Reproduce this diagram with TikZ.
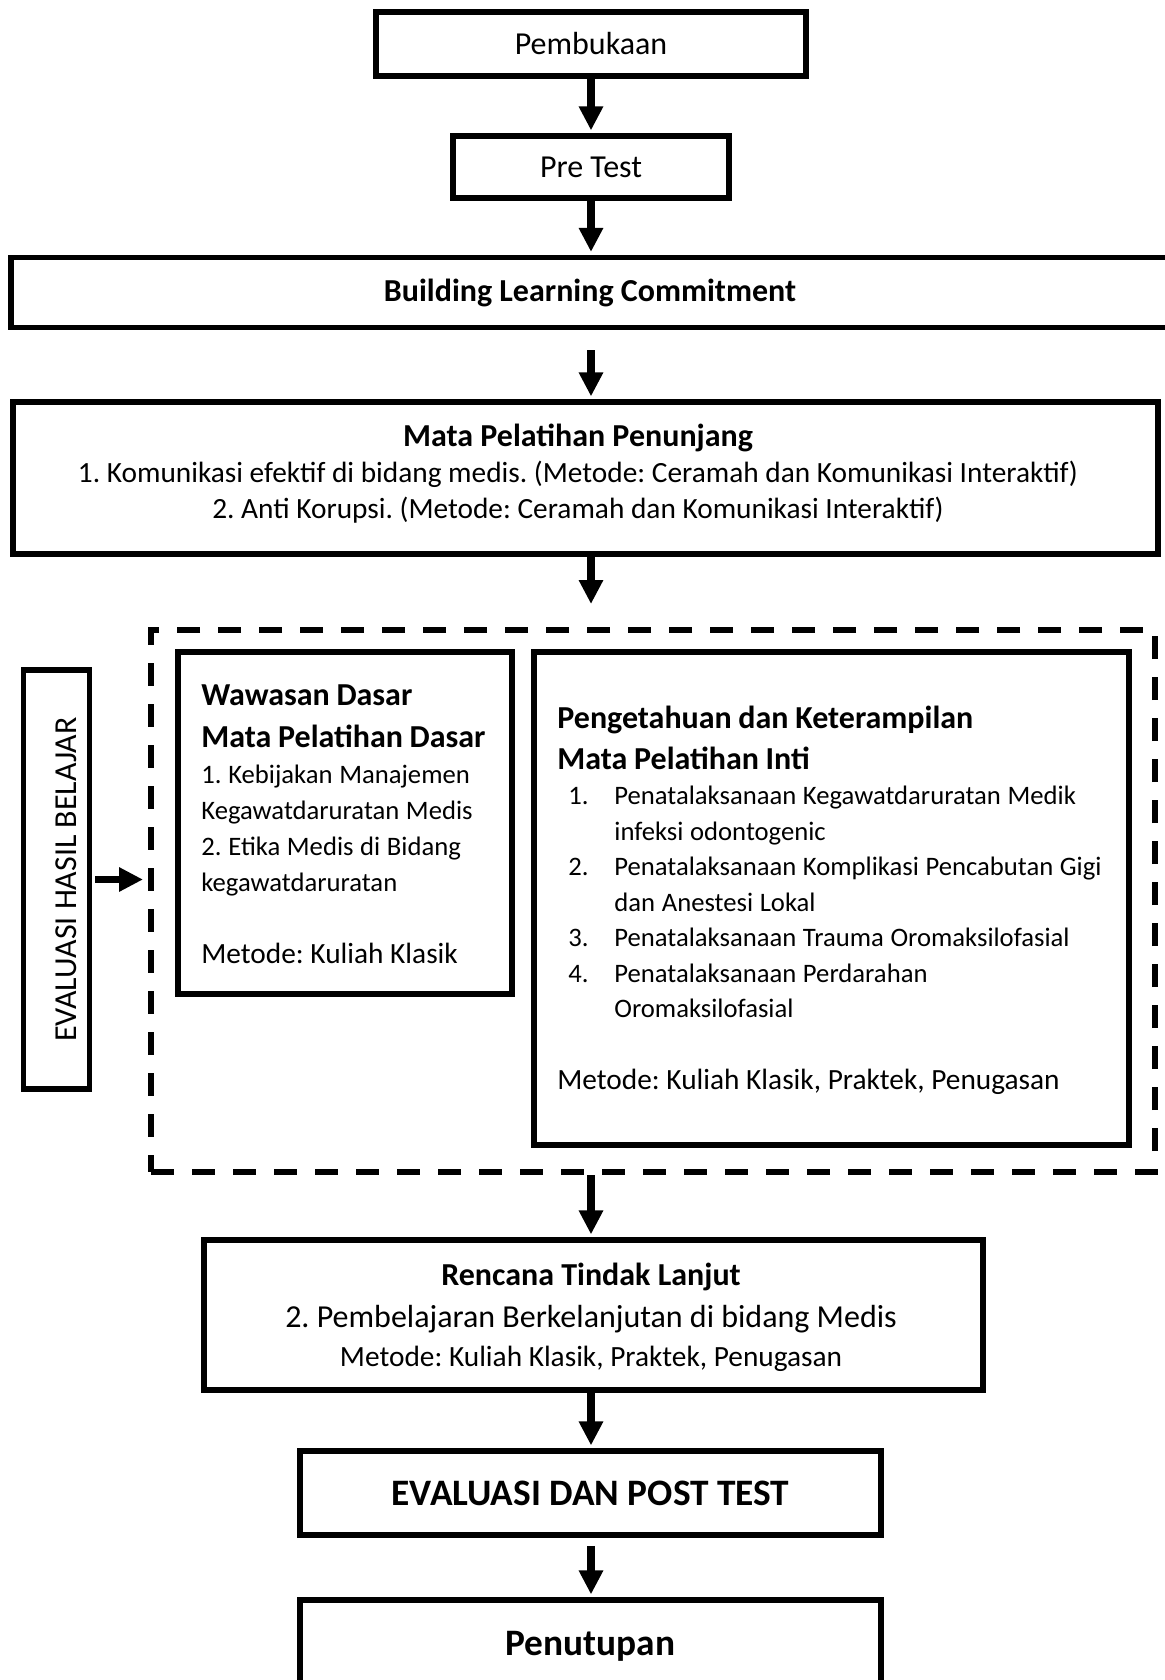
\documentclass[tikz,border=0pt]{standalone}
\usepackage{fontspec}
\setmainfont{Carlito}
\usepackage{graphicx}
\usetikzlibrary{arrows.meta}
\frenchspacing

\begin{document}
\begin{tikzpicture}[x=0.5pt, y=-0.5pt,
  box/.style={draw, line width=2.8pt, inner sep=0pt, font=\fontsize{16}{19}\selectfont},
  txt/.style={inner sep=0pt, align=left, anchor=base west},
  flow/.style={line width=3.75pt, shorten >=1.4pt, -{Triangle[length=12pt, width=11.5pt]}}]
  \useasboundingbox (0,0) rectangle (1164,1680);

  % kotak alur utama
  \node[box, minimum width=215pt, minimum height=32pt] (buka) at (591,44) {Pembukaan};
  \node[box, minimum width=138pt, minimum height=31pt] (pretest) at (591,167) {Pre Test};
  \node[box, minimum width=579pt, minimum height=35pt] (blc) at (590,292.5) {\bfseries Building Learning Commitment};
  \node[box, minimum width=572.5pt, minimum height=76pt] (penunjang) at (585.5,478) {};
  \node[inner sep=0pt, align=center, anchor=base, font=\fontsize{14.67}{18}\selectfont] (penunjang-txt) at (578,518)
    {{\fontsize{16}{18}\selectfont\bfseries Mata Pelatihan Penunjang}\\
     1. Komunikasi efektif di bidang medis. (Metode: Ceramah dan Komunikasi Interaktif)\\
     2. Anti Korupsi. (Metode: Ceramah dan Komunikasi Interaktif)};

  % kelompok mata pelatihan
  \node[draw, line width=3pt, dash pattern=on 11.5pt off 9pt, minimum width=502pt, minimum height=271pt] (inti) at (653,901) {};
  \node[box, minimum width=33pt, minimum height=209.5pt] (evalhasil) at (56.5,879.5)
    {\rotatebox{90}{\raisebox{-5pt}[\height][\depth]{EVALUASI HASIL BELAJAR}}};

  \node[box, minimum width=167pt, minimum height=171pt] (dasar) at (345,823) {};
  \node[txt, text width=160pt] (dasar-txt) at (201,705)
    {\parindent=0pt
     \fontsize{16}{21}\selectfont\bfseries Wawasan Dasar\par
     Mata Pelatihan Dasar\par
     \fontsize{13.33}{18}\selectfont\mdseries
     1. Kebijakan Manajemen\\
     Kegawatdaruratan Medis\\
     2. Etika Medis di Bidang\\
     kegawatdaruratan\par
     \vspace{18pt}
     \fontsize{14.67}{18}\selectfont Metode: Kuliah Klasik\par};

  \node[box, minimum width=297.5pt, minimum height=246.5pt] (pokok) at (831.5,898.5) {};
  \node[txt, text width=292pt] (pokok-txt) at (557,728)
    {\parindent=0pt
     \fontsize{16}{20.5}\selectfont\bfseries Pengetahuan dan Keterampilan\par
     Mata Pelatihan Inti\par
     \fontsize{13.33}{17.75}\selectfont\mdseries
     \hspace*{5.5pt}\makebox[23pt][l]{1.}Penatalaksanaan Kegawatdaruratan Medik\\
     \hspace*{28.5pt}infeksi odontogenic\\
     \hspace*{5.5pt}\makebox[23pt][l]{2.}Penatalaksanaan Komplikasi Pencabutan Gigi\\
     \hspace*{28.5pt}dan Anestesi Lokal\\
     \hspace*{5.5pt}\makebox[23pt][l]{3.}Penatalaksanaan Trauma Oromaksilofasial\\
     \hspace*{5.5pt}\makebox[23pt][l]{4.}Penatalaksanaan Perdarahan\\
     \hspace*{28.5pt}Oromaksilofasial\par
     \vspace{18pt}
     \fontsize{14.67}{18}\selectfont Metode: Kuliah Klasik, Praktek, Penugasan\par};

  % tindak lanjut dan penutup
  \node[box, minimum width=389.5pt, minimum height=75pt] (rtl) at (593.5,1315) {};
  \node[inner sep=0pt, align=center, anchor=base, font=\fontsize{16}{21}\selectfont] (rtl-txt) at (591,1366)
    {{\bfseries Rencana Tindak Lanjut}\\
     2. Pembelajaran Berkelanjutan di bidang Medis\\[-1.5pt]
     {\fontsize{14.67}{18}\selectfont Metode: Kuliah Klasik, Praktek, Penugasan}};
  \node[box, minimum width=290.5pt, minimum height=42pt, font=\fontsize{18.67}{22}\selectfont\bfseries] (evalpost) at (590.5,1493) {EVALUASI DAN POST TEST};
  \node[box, minimum width=290.5pt, minimum height=46pt, font=\fontsize{18.67}{22}\selectfont\bfseries] (tutup) at (590.5,1646) {Penutupan};

  % panah
  \draw[flow] (buka) -- (pretest);
  \draw[flow] (pretest) -- (blc.north -| pretest);
  \draw[flow, shorten <=10pt] (blc.south -| pretest) -- (penunjang.north -| pretest);
  \draw[flow, shorten >=11.5pt] (penunjang.south -| pretest) -- (inti.north -| pretest);
  \draw[flow] (inti.south -| pretest) -- (rtl.north -| pretest);
  \draw[flow] (rtl.south -| pretest) -- (evalpost.north -| pretest);
  \draw[flow, shorten <=4pt] (evalpost.south -| pretest) -- (tutup.north -| pretest);
  \draw[flow, shorten <=1.5pt, shorten >=2.5pt] (evalhasil.east) -- (evalhasil.east -| inti.west);
\end{tikzpicture}
\end{document}
